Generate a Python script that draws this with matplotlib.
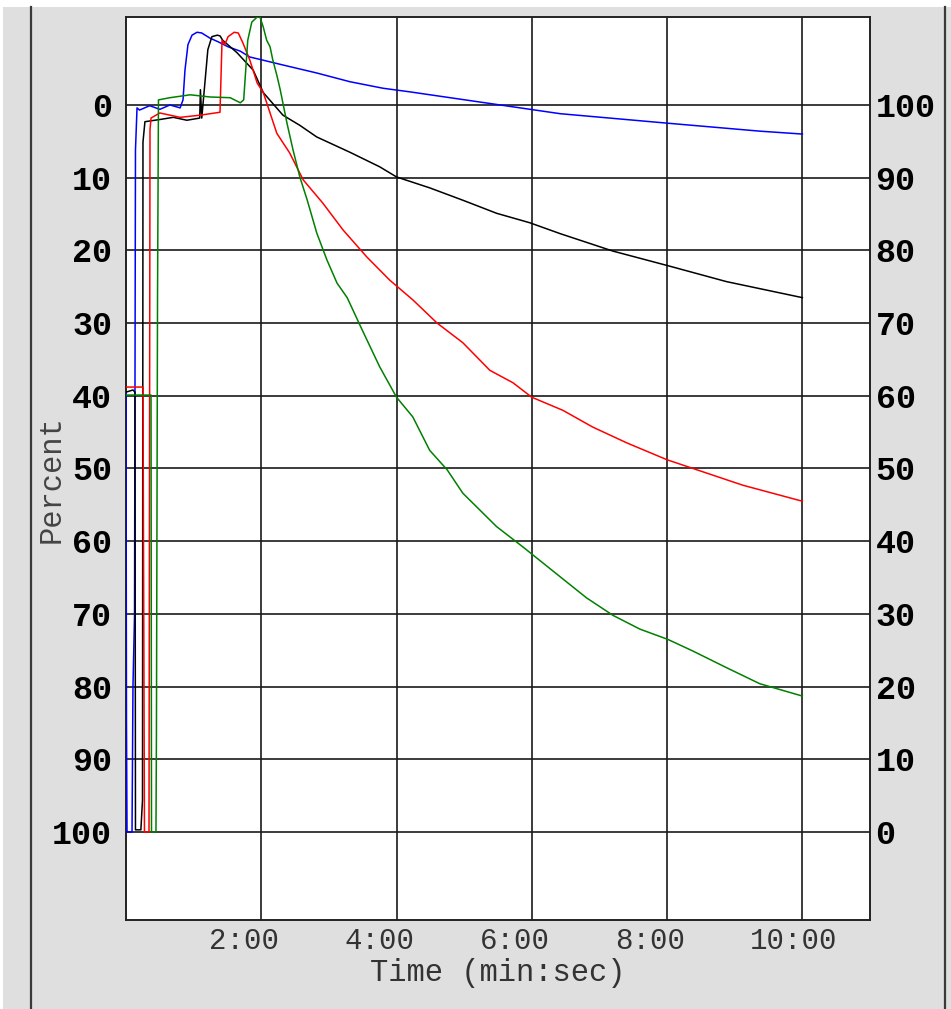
import matplotlib
matplotlib.use("Agg")
import matplotlib.pyplot as plt
from matplotlib.lines import Line2D
from matplotlib.patches import Rectangle
from matplotlib.ticker import FuncFormatter
import matplotlib.transforms as mtransforms

# tempo em minutos, valor em percentual (escala da direita)
blue_t = [0.0, 0.007, 0.015, 0.089, 0.103, 0.126, 0.14, 0.163, 0.2, 0.35, 0.5, 0.65, 0.8, 0.843,
          0.872, 0.916, 0.976, 1.05, 1.12, 1.24, 1.36, 1.51, 1.69, 1.83, 2.01, 2.32, 2.82, 3.31,
          3.80, 4.20, 5.31, 6.42, 8.0, 9.37, 10.0]
blue_v = [60.5, 15.1, 0.0, 0.0, 20.0, 29.8, 93.8, 99.6, 99.3, 99.9, 99.4, 100.0, 99.6, 100.7,
          104.8, 108.3, 109.6, 110.0, 109.9, 109.2, 108.7, 108.0, 107.4, 106.6, 106.2, 105.5, 104.4, 103.2,
          102.3, 101.8, 100.3, 98.8, 97.5, 96.4, 96.0]

black_t = [0.0, 0.103, 0.133, 0.14, 0.22, 0.244, 0.251, 0.28, 0.5, 0.7, 0.9, 1.09, 1.1, 1.12,
           1.17, 1.21, 1.27, 1.35, 1.39, 1.43, 1.64, 1.88, 2.03, 2.32, 2.57, 2.82, 3.31, 3.75,
           4.0, 4.49, 4.98, 5.48, 5.97, 6.42, 7.2, 8.01, 8.88, 10.0]
black_v = [60.5, 60.8, 60.5, 0.3, 0.3, 4.4, 94.9, 97.7, 98.0, 98.3, 97.9, 98.2, 102.1, 98.2,
           103.4, 107.6, 109.4, 109.6, 109.5, 108.9, 107.2, 104.8, 101.7, 98.6, 97.2, 95.6, 93.5, 91.5,
           90.1, 88.6, 86.9, 85.1, 83.8, 82.3, 79.9, 77.9, 75.7, 73.5]

red_t = [0.0, 0.251, 0.273, 0.34, 0.355, 0.37, 0.5, 0.8, 1.1, 1.39, 1.42, 1.46, 1.51, 1.60,
         1.66, 1.73, 1.83, 1.94, 2.03, 2.13, 2.23, 2.42, 2.62, 2.91, 3.21, 3.56, 3.90, 4.24,
         4.6, 4.98, 5.38, 5.72, 6.0, 6.46, 6.9, 7.41, 8.0, 8.48, 9.12, 10.0]
red_v = [61.2, 61.2, 0.0, 0.0, 96.6, 98.2, 98.9, 98.3, 98.6, 99.0, 108.9, 108.3, 109.4, 110.0,
         109.9, 108.5, 106.2, 103.0, 101.7, 98.9, 96.1, 93.4, 89.7, 86.5, 82.8, 79.1, 75.9, 73.2,
         70.0, 67.3, 63.5, 61.8, 59.8, 58.0, 55.7, 53.5, 51.2, 49.7, 47.7, 45.5]

green_t = [0.0, 0.37, 0.377, 0.443, 0.45, 0.466, 0.48, 0.65, 0.95, 1.24, 1.54, 1.69, 1.74, 1.77,
           1.80, 1.86, 1.94, 1.98, 2.03, 2.08, 2.13, 2.17, 2.23, 2.28, 2.38, 2.47, 2.57, 2.68,
           2.82, 2.97, 3.12, 3.27, 3.49, 3.75, 4.0, 4.24, 4.49, 4.75, 4.98, 5.23, 5.48, 5.87,
           6.42, 6.81, 7.2, 7.6, 8.01, 8.38, 8.88, 9.37, 10.0]
green_v = [60.1, 60.1, 0.0, 0.0, 13.3, 73.2, 100.7, 101.0, 101.4, 101.1, 101.0, 100.3, 100.7, 104.8,
           108.9, 111.4, 112.1, 112.1, 110.7, 108.9, 108.0, 106.2, 104.1, 102.1, 97.5, 93.8, 90.1, 86.9,
           82.4, 78.7, 75.5, 73.5, 69.1, 64.0, 59.8, 57.1, 52.5, 49.8, 46.6, 44.3, 42.0, 39.2,
           35.1, 32.2, 29.8, 27.9, 26.5, 24.9, 22.6, 20.4, 18.7]

y_ticks = list(range(0, 101, 10))
x_ticks = [2, 4, 6, 8, 10]

fonte = "Liberation Mono"
cinza = "#dfdfdf"

fig = plt.figure(figsize=(9.51, 10.09), dpi=100, facecolor=cinza)
# faixas brancas e divisorias da janela
fig.add_artist(Rectangle((0, 1 - 7 / 1009), 1, 7 / 1009, transform=fig.transFigure,
                         facecolor="white", edgecolor="none"))
fig.add_artist(Rectangle((0, 0), 3 / 951, 1, transform=fig.transFigure,
                         facecolor="white", edgecolor="none"))
for xx in [31 / 951, 945 / 951]:
    fig.add_artist(Line2D([xx, xx], [0, 1 - 7 / 1009], transform=fig.transFigure,
                          color="#3a3a3a", lw=1.6))

ax = fig.add_axes([126 / 951, 89 / 1009, 744 / 951, 903 / 1009])
ax.set_facecolor("white")

ax.plot(blue_t, blue_v, color="#0000ff", lw=1.1, zorder=3)
ax.plot(black_t, black_v, color="black", lw=1.1, zorder=3)
ax.plot(red_t, red_v, color="#ff0000", lw=1.1, zorder=3)
ax.plot(green_t, green_v, color="#008000", lw=1.1, zorder=3)

ax.set_xlim(0, 11)
ax.set_ylim(-12.1, 112.1)

ax.set_yticks(y_ticks)
ax.set_yticklabels([str(100 - v) for v in y_ticks], fontfamily=fonte, fontweight="bold",
                   fontsize=24, color="black")
ax.set_xticks(x_ticks)
ax.xaxis.set_major_formatter(FuncFormatter(lambda m, p: "%d:%02d" % (int(m), int(round((m % 1) * 60)))))
for lab in ax.get_xticklabels():
    lab.set_fontfamily(fonte)
    lab.set_fontsize(21)
    lab.set_color("#333333")
ax.tick_params(axis="both", length=0)
ax.tick_params(axis="y", pad=10)
ax.tick_params(axis="x", pad=5)

# rotulos do eixo x comecam antes da linha da grade
desloc = mtransforms.ScaledTranslation(-52 / 100, 0, fig.dpi_scale_trans)
for lab in ax.get_xticklabels():
    lab.set_horizontalalignment("left")
    lab.set_transform(lab.get_transform() + desloc)

ax.grid(True, color="#1a1a1a", lw=1.2)
ax.set_axisbelow(True)
for s in ax.spines.values():
    s.set_linewidth(1.4)
    s.set_color("#222222")

ax2 = ax.twinx()
ax2.set_ylim(ax.get_ylim())
ax2.set_yticks(y_ticks)
ax2.set_yticklabels([str(v) for v in y_ticks], fontfamily=fonte, fontweight="bold",
                    fontsize=24, color="black")
ax2.tick_params(axis="y", length=0, pad=4)
for s in ax2.spines.values():
    s.set_visible(False)

ax.set_xlabel("Time (min:sec)", fontfamily=fonte, fontsize=22, color="#333333", labelpad=2)
fig.text(52 / 951, 1 - 479 / 1009, "Percent", rotation=90, ha="center", va="center",
         fontfamily=fonte, fontsize=22, color="#444444")

fig.savefig("out.png", dpi=100, facecolor=cinza)
